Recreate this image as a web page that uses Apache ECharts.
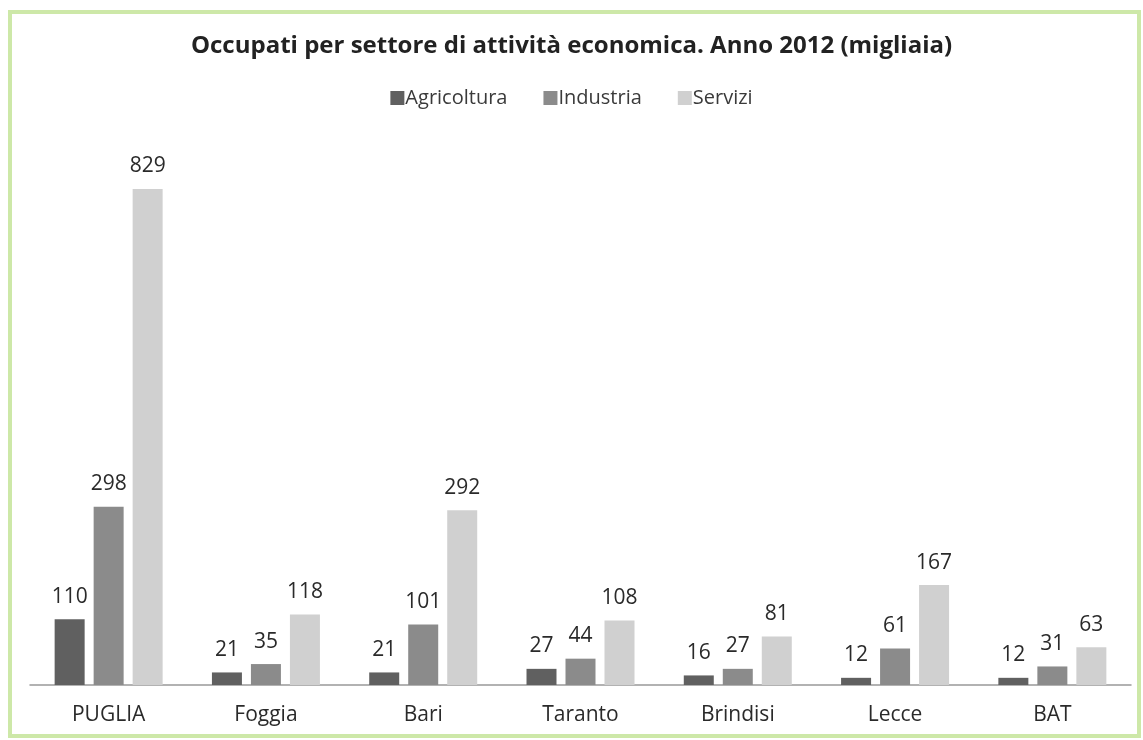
<!DOCTYPE html>
<html>
<head>
<meta charset="utf-8">
<script src="https://cdn.jsdelivr.net/npm/echarts@6/dist/echarts.min.js"></script>
<style>
  html, body { margin: 0; padding: 0; background: #fff; }
  #chart { width: 1143px; height: 740px; }
</style>
</head>
<body>
<div id="chart"></div>
<script>
const categories = ['PUGLIA', 'Foggia', 'Bari', 'Taranto', 'Brindisi', 'Lecce', 'BAT'];
const agricoltura = [110, 21, 21, 27, 16, 12, 12];
const industria = [298, 35, 101, 44, 27, 61, 31];
const servizi = [829, 118, 292, 108, 81, 167, 63];

const font = '"Open Sans", sans-serif';

function barSeries(name, data, color) {
    return {
        name: name,
        type: 'bar',
        data: data,
        barWidth: 30,
        barGap: '30%',
        itemStyle: { color: color },
        label: {
            show: true,
            position: 'top',
            distance: 12,
            color: '#2a2a2a',
            fontSize: 21,
            fontFamily: font
        }
    };
}

const chart = echarts.init(document.getElementById('chart'));
chart.setOption({
    backgroundColor: '#fff',
    animation: false,
    title: {
        text: 'Occupati per settore di attività economica. Anno 2012 (migliaia)',
        left: 'center',
        top: 29,
        textStyle: { fontSize: 24, fontWeight: 'bold', color: '#222', fontFamily: font }
    },
    legend: {
        top: 83,
        left: 'center',
        itemWidth: 14,
        itemHeight: 14,
        itemGap: 36,
        icon: 'rect',
        textStyle: { fontSize: 20, color: '#3a3a3a', fontFamily: font, padding: [0, 0, 0, -4] },
        data: ['Agricoltura', 'Industria', 'Servizi']
    },
    graphic: [{
        type: 'rect',
        shape: { x: 10, y: 12, width: 1129, height: 724 },
        style: { fill: 'none', stroke: '#cde8a8', lineWidth: 4 },
        silent: true
    }],
    grid: { left: 30, right: 12, top: 189, bottom: 55 },
    xAxis: {
        type: 'category',
        data: categories,
        axisLine: { lineStyle: { color: '#999', width: 1.5 } },
        axisTick: { show: false },
        axisLabel: { fontSize: 21, color: '#2a2a2a', fontFamily: font, margin: 20 }
    },
    yAxis: {
        type: 'value',
        min: 0,
        max: 829,
        show: false,
        splitLine: { show: false }
    },
    series: [
        barSeries('Agricoltura', agricoltura, '#606060'),
        barSeries('Industria', industria, '#8b8b8b'),
        barSeries('Servizi', servizi, '#d0d0d0')
    ]
});
</script>
</body>
</html>
